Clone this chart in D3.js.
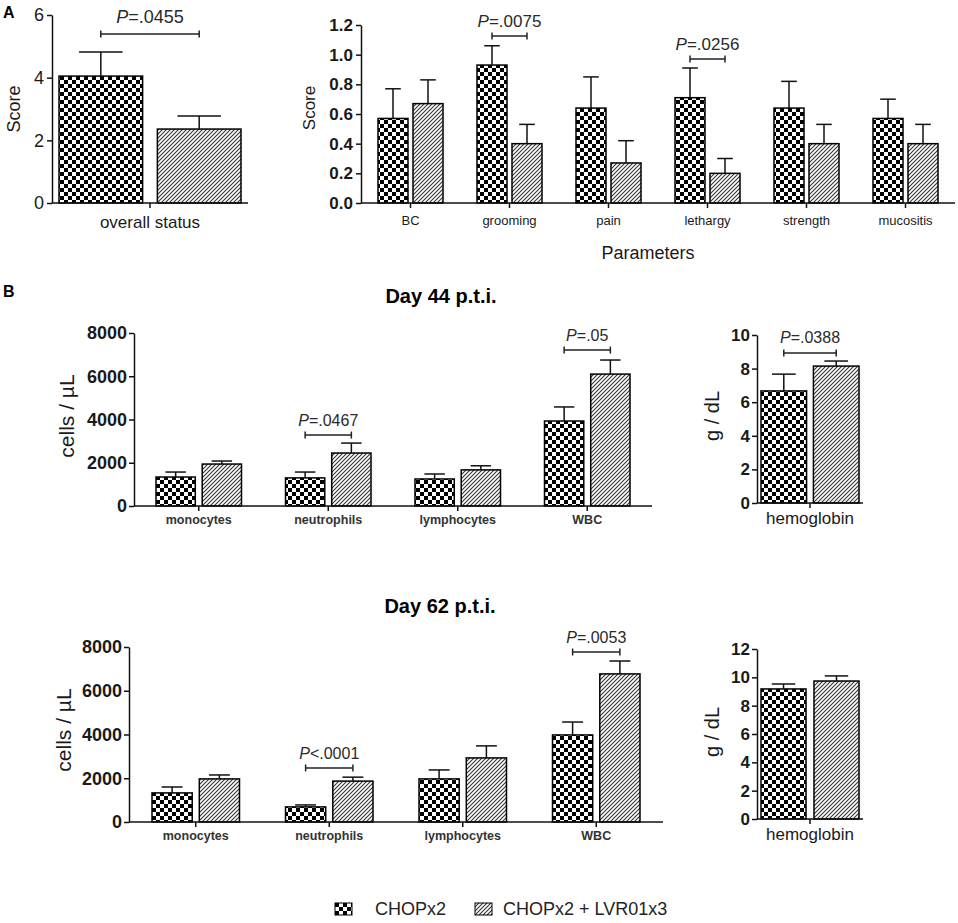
<!DOCTYPE html>
<html>
<head>
<meta charset="utf-8">
<script src="https://cdn.jsdelivr.net/npm/d3@7"></script>
<style>
  body { margin: 0; background: #fff; }
  text { font-family: "Liberation Sans", Arial, sans-serif; fill: #1a1a1a; }
</style>
</head>
<body>
<svg id="chart" width="958" height="923"></svg>
<script>
// ---- data ----
var groups = ["CHOPx2", "CHOPx2 + LVR01x3"];

// A, overall status
var overallCats = ["overall status"];
var overallChop = [4.05], overallChopSem = [0.77];
var overallLvr = [2.36], overallLvrSem = [0.42];
var overallTicks = [0, 2, 4, 6];
var overallPCats = ["overall status"], overallPText = ["=.0455"], overallPLevel = [5.39];

// A, parameters
var paramCats = ["BC", "grooming", "pain", "lethargy", "strength", "mucositis"];
var paramChop = [0.57, 0.93, 0.64, 0.71, 0.64, 0.57];
var paramChopSem = [0.20, 0.13, 0.21, 0.20, 0.18, 0.13];
var paramLvr = [0.67, 0.40, 0.27, 0.20, 0.40, 0.40];
var paramLvrSem = [0.16, 0.13, 0.15, 0.10, 0.13, 0.13];
var paramTicks = [0, 0.2, 0.4, 0.6, 0.8, 1.0, 1.2];
var paramPCats = ["grooming", "lethargy"], paramPText = ["=.0075", "=.0256"], paramPLevel = [1.126, 0.971];

// B, cells
var cellCats = ["monocytes", "neutrophils", "lymphocytes", "WBC"];
var cellTicks = [0, 2000, 4000, 6000, 8000];

var d44Chop = [1340, 1300, 1250, 3930], d44ChopSem = [230, 270, 230, 650];
var d44Lvr = [1940, 2450, 1670, 6100], d44LvrSem = [140, 460, 190, 650];
var d44PCats = ["neutrophils", "WBC"], d44PText = ["=.0467", "=.05"], d44PLevel = [3280, 7210];

var d62Chop = [1330, 690, 1970, 3980], d62ChopSem = [270, 90, 410, 590];
var d62Lvr = [1970, 1870, 2930, 6770], d62LvrSem = [180, 180, 550, 590];
var d62PCats = ["neutrophils", "WBC"], d62PText = ["<.0001", "=.0053"], d62PLevel = [2470, 7770];

// B, hemoglobin
var hbCats = ["hemoglobin"];
var hb44Chop = [6.67], hb44ChopSem = [1.0], hb44Lvr = [8.15], hb44LvrSem = [0.3];
var hb44Ticks = [0, 2, 4, 6, 8, 10];
var hb44PCats = ["hemoglobin"], hb44PText = ["=.0388"], hb44PLevel = [8.93];

var hb62Chop = [9.18], hb62ChopSem = [0.35], hb62Lvr = [9.74], hb62LvrSem = [0.36];
var hb62Ticks = [0, 2, 4, 6, 8, 10, 12];

// ---- setup ----
var svg = d3.select("#chart");
var defs = svg.append("defs");

var chk = defs.append("pattern").attr("id", "checker")
  .attr("patternUnits", "userSpaceOnUse").attr("width", 8).attr("height", 8);
chk.append("rect").attr("width", 8).attr("height", 8).attr("fill", "#fff");
chk.append("rect").attr("width", 4).attr("height", 4).attr("fill", "#000");
chk.append("rect").attr("x", 4).attr("y", 4).attr("width", 4).attr("height", 4).attr("fill", "#000");

var htc = defs.append("pattern").attr("id", "hatch")
  .attr("patternUnits", "userSpaceOnUse").attr("width", 4).attr("height", 4);
htc.append("rect").attr("width", 4).attr("height", 4).attr("fill", "#fff");
htc.append("path").attr("d", "M0,4L4,0M-1,1L1,-1M3,5L5,3")
  .attr("stroke", "#333").attr("stroke-width", 1.1);

var fills = ["url(#checker)", "url(#hatch)"];

function drawPanel(o) {
  var g = svg.append("g");
  var x = d3.scaleBand().domain(o.cats).range([o.x0, o.x1]);
  var inner = d3.scaleBand().domain([0, 1])
    .range([o.pad, x.bandwidth() - o.pad]).paddingInner(o.gap);
  var y = d3.scaleLinear().domain([0, o.yMax]).range([o.yB, o.yT]);
  var bw = inner.bandwidth();

  var rows = [];
  o.cats.forEach(function(c, i) {
    rows.push({cat: c, s: 0, v: o.chop[i], e: o.chopSem[i]});
    rows.push({cat: c, s: 1, v: o.lvr[i], e: o.lvrSem[i]});
  });

  g.selectAll("rect.bar").data(rows).enter().append("rect")
    .attr("class", "bar")
    .attr("x", function(d) { return x(d.cat) + inner(d.s); })
    .attr("y", function(d) { return y(d.v); })
    .attr("width", bw)
    .attr("height", function(d) { return y(0) - y(d.v); })
    .attr("fill", function(d) { return fills[d.s]; })
    .attr("stroke", "#000").attr("stroke-width", 1.5);

  // upper error bars
  var eb = g.selectAll("g.err").data(rows).enter().append("g").attr("class", "err")
    .attr("stroke", "#111").attr("stroke-width", 1.5);
  eb.append("line")
    .attr("x1", function(d) { return x(d.cat) + inner(d.s) + bw / 2; })
    .attr("x2", function(d) { return x(d.cat) + inner(d.s) + bw / 2; })
    .attr("y1", function(d) { return y(d.v); })
    .attr("y2", function(d) { return y(d.v + d.e); });
  eb.append("line")
    .attr("x1", function(d) { return x(d.cat) + inner(d.s) + bw / 2 - bw * 0.26; })
    .attr("x2", function(d) { return x(d.cat) + inner(d.s) + bw / 2 + bw * 0.26; })
    .attr("y1", function(d) { return y(d.v + d.e); })
    .attr("y2", function(d) { return y(d.v + d.e); });

  // y axis
  var ya = g.append("g").attr("transform", "translate(" + o.x0 + ",0)")
    .call(d3.axisLeft(y).tickValues(o.ticks).tickFormat(o.fmt)
      .tickSize(5).tickSizeOuter(0).tickPadding(o.tickPad));
  ya.selectAll("path, line").attr("stroke", "#111").attr("stroke-width", 1.5);
  ya.selectAll("text").attr("font-size", o.tickFont)
    .attr("font-weight", o.tickBold ? "bold" : "normal")
    .attr("font-family", "Liberation Sans, Arial, sans-serif").attr("fill", "#1a1a1a");

  // x axis
  g.append("line").attr("x1", o.x0).attr("x2", o.x1)
    .attr("y1", y(0)).attr("y2", y(0)).attr("stroke", "#111").attr("stroke-width", 1.5);
  g.selectAll("line.xt").data(o.cats).enter().append("line").attr("class", "xt")
    .attr("x1", function(c) { return x(c) + x.bandwidth() / 2; })
    .attr("x2", function(c) { return x(c) + x.bandwidth() / 2; })
    .attr("y1", y(0)).attr("y2", y(0) + 5).attr("stroke", "#111").attr("stroke-width", 1.5);
  g.selectAll("text.xl").data(o.cats).enter().append("text").attr("class", "xl")
    .attr("x", function(c) { return x(c) + x.bandwidth() / 2; })
    .attr("y", y(0) + o.catDy)
    .attr("text-anchor", "middle")
    .attr("font-size", o.catFont)
    .attr("font-weight", o.catBold ? "bold" : "normal")
    .style("fill", o.catBold ? "#333" : "#1a1a1a")
    .text(function(c) { return c; });

  // y label
  g.append("text")
    .attr("transform", "translate(" + o.yLabelX + "," + o.yLabelY + ") rotate(-90)")
    .attr("text-anchor", "middle")
    .attr("font-size", o.yLabelFont)
    .text(o.yLabel);

  // significance brackets
  if (o.pCats) {
    o.pCats.forEach(function(c, i) {
      var xa = x(c) + inner(0) + bw / 2, xb = x(c) + inner(1) + bw / 2;
      var yy = y(o.pLevel[i]);
      var b = g.append("g").attr("stroke", "#222").attr("stroke-width", 1.5);
      b.append("line").attr("x1", xa).attr("x2", xb).attr("y1", yy).attr("y2", yy);
      b.append("line").attr("x1", xa).attr("x2", xa).attr("y1", yy - 3.5).attr("y2", yy + 3.5);
      b.append("line").attr("x1", xb).attr("x2", xb).attr("y1", yy - 3.5).attr("y2", yy + 3.5);
      var t = g.append("text").attr("x", (xa + xb) / 2).attr("y", yy + o.pDy)
        .attr("text-anchor", "middle").attr("font-size", o.pFont).style("fill", "#2a2a2a");
      t.append("tspan").attr("font-style", "italic").text("P");
      t.append("tspan").text(o.pText[i]);
    });
  }
}

// ---- panel A ----
svg.append("text").attr("x", 3).attr("y", 18).attr("font-size", 16)
  .attr("font-weight", "bold").style("fill", "#000").text("A");

drawPanel({
  cats: overallCats, chop: overallChop, chopSem: overallChopSem, lvr: overallLvr, lvrSem: overallLvrSem,
  x0: 52, x1: 248, yT: 15, yB: 203, yMax: 6, ticks: overallTicks, fmt: d3.format("d"),
  pad: 7, gap: 0.15, tickFont: 18, tickBold: false, tickPad: 3,
  catFont: 17, catBold: false, catDy: 25,
  yLabel: "Score", yLabelX: 20, yLabelY: 109, yLabelFont: 18,
  pCats: overallPCats, pText: overallPText, pLevel: overallPLevel, pFont: 18, pDy: -11
});

drawPanel({
  cats: paramCats, chop: paramChop, chopSem: paramChopSem, lvr: paramLvr, lvrSem: paramLvrSem,
  x0: 361, x1: 955, yT: 25, yB: 203, yMax: 1.2, ticks: paramTicks, fmt: d3.format(".1f"),
  pad: 17, gap: 0.143, tickFont: 17, tickBold: true, tickPad: 3,
  catFont: 13, catBold: false, catDy: 22,
  yLabel: "Score", yLabelX: 315, yLabelY: 108, yLabelFont: 17,
  pCats: paramPCats, pText: paramPText, pLevel: paramPLevel, pFont: 17, pDy: -9
});

svg.append("text").attr("x", 648).attr("y", 259).attr("text-anchor", "middle")
  .attr("font-size", 18).text("Parameters");

// ---- panel B ----
svg.append("text").attr("x", 3).attr("y", 297).attr("font-size", 16)
  .attr("font-weight", "bold").style("fill", "#000").text("B");

svg.append("text").attr("x", 441).attr("y", 303).attr("text-anchor", "middle")
  .attr("font-size", 20).attr("font-weight", "bold").style("fill", "#000").text("Day 44 p.t.i.");

drawPanel({
  cats: cellCats, chop: d44Chop, chopSem: d44ChopSem, lvr: d44Lvr, lvrSem: d44LvrSem,
  x0: 134, x1: 652, yT: 333, yB: 506, yMax: 8000, ticks: cellTicks, fmt: d3.format("d"),
  pad: 22, gap: 0.15, tickFont: 18, tickBold: true, tickPad: 2,
  catFont: 12.5, catBold: true, catDy: 18,
  yLabel: "cells / \u00b5L", yLabelX: 74, yLabelY: 416, yLabelFont: 21,
  pCats: d44PCats, pText: d44PText, pLevel: d44PLevel, pFont: 16, pDy: -9
});

drawPanel({
  cats: hbCats, chop: hb44Chop, chopSem: hb44ChopSem, lvr: hb44Lvr, lvrSem: hb44LvrSem,
  x0: 757, x1: 863, yT: 335, yB: 503, yMax: 10, ticks: hb44Ticks, fmt: d3.format("d"),
  pad: 4, gap: 0.13, tickFont: 17, tickBold: true, tickPad: 2,
  catFont: 17, catBold: false, catDy: 21,
  yLabel: "g / dL", yLabelX: 719, yLabelY: 416, yLabelFont: 20,
  pCats: hb44PCats, pText: hb44PText, pLevel: hb44PLevel, pFont: 16, pDy: -10
});

svg.append("text").attr("x", 440).attr("y", 613).attr("text-anchor", "middle")
  .attr("font-size", 20).attr("font-weight", "bold").style("fill", "#000").text("Day 62 p.t.i.");

drawPanel({
  cats: cellCats, chop: d62Chop, chopSem: d62ChopSem, lvr: d62Lvr, lvrSem: d62LvrSem,
  x0: 129, x1: 663, yT: 647, yB: 822, yMax: 8000, ticks: cellTicks, fmt: d3.format("d"),
  pad: 23, gap: 0.15, tickFont: 18, tickBold: true, tickPad: 2,
  catFont: 12.5, catBold: true, catDy: 18,
  yLabel: "cells / \u00b5L", yLabelX: 71, yLabelY: 730, yLabelFont: 21,
  pCats: d62PCats, pText: d62PText, pLevel: d62PLevel, pFont: 16, pDy: -9
});

drawPanel({
  cats: hbCats, chop: hb62Chop, chopSem: hb62ChopSem, lvr: hb62Lvr, lvrSem: hb62LvrSem,
  x0: 757, x1: 863, yT: 649, yB: 819, yMax: 12, ticks: hb62Ticks, fmt: d3.format("d"),
  pad: 4, gap: 0.15, tickFont: 17, tickBold: true, tickPad: 2,
  catFont: 17, catBold: false, catDy: 21,
  yLabel: "g / dL", yLabelX: 719, yLabelY: 732, yLabelFont: 20
});

// ---- legend ----
var legendX = [335, 475];
var lg = svg.append("g").selectAll("g").data(groups).enter().append("g")
  .attr("transform", function(d, i) { return "translate(" + legendX[i] + ",903)"; });
lg.append("rect").attr("width", 17).attr("height", 12)
  .attr("fill", function(d, i) { return fills[i]; })
  .attr("stroke", "#000").attr("stroke-width", 1);
lg.append("text").attr("x", function(d, i) { return i === 0 ? 40 : 28; }).attr("y", 12)
  .attr("font-size", 18).style("fill", "#222").text(function(d) { return d; });
</script>
</body>
</html>
